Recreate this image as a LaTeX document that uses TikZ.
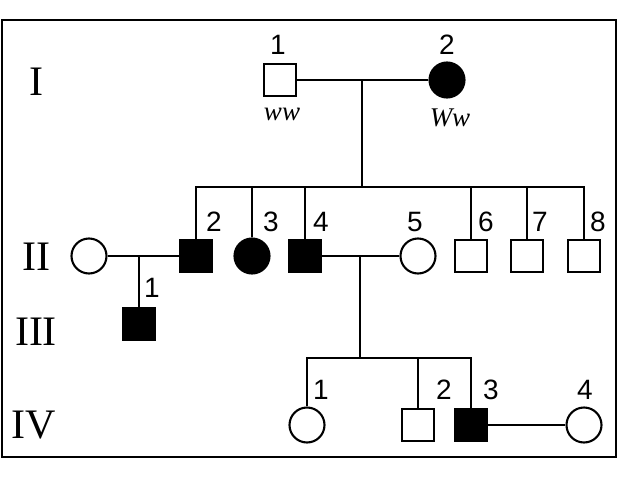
\documentclass[tikz,border=0pt]{standalone}
\usepackage{fontspec}
\setmainfont{Liberation Serif}
\newfontfamily\numfont{Liberation Sans}

\begin{document}
\begin{tikzpicture}[x=1pt, y=-1pt, line width=2.1pt,
    male/.style={draw, rectangle, minimum size=32pt, inner sep=0pt, fill=white},
    female/.style={draw, circle, minimum size=35pt, inner sep=0pt, fill=white},
    aff/.style={fill=black},
    num/.style={font=\numfont\fontsize{28}{28}\selectfont, inner sep=0pt},
    gen/.style={font=\fontsize{42}{42}\selectfont, inner sep=0pt},
    geno/.style={font=\itshape\fontsize{27}{27}\selectfont, inner sep=0pt}]
      \useasboundingbox (0,0) rectangle (632,490);
      \draw[line width=2.6pt] (2,20) rectangle (616,457);

      \node[gen] (gI) at (36,82) {I};
      \node[gen] (gII) at (36,257) {II};
      \node[gen] (gIII) at (36,332) {III};
      \node[gen] (gIV) at (34,425) {IV};

      \node[male] (I1) at (280,80) {};
      \node[female,aff] (I2) at (447,80) {};

      \node[female] (IIs) at (89,256) {};
      \node[male,aff] (II2) at (196,256) {};
      \node[female,aff] (II3) at (252,256) {};
      \node[male,aff] (II4) at (305,256) {};
      \node[female] (II5) at (418,256) {};
      \node[male] (II6) at (471,256) {};
      \node[male] (II7) at (527,256) {};
      \node[male] (II8) at (584,256) {};

      \node[male,aff] (III1) at (139,324) {};

      \node[female] (IV1) at (307,425) {};
      \node[male] (IV2) at (418,425) {};
      \node[male,aff] (IV3) at (471,425) {};
      \node[female] (IV4) at (584,425) {};

      \coordinate (m1) at (362,80);
      \coordinate (s1) at (362,187);
      \coordinate (m2) at (139,256);
      \coordinate (m3) at (360,256);
      \coordinate (s3) at (360,358);

      \draw (I1) -- (I2);
      \draw (m1) -- (s1);
      \draw (II2.north) -- (II2.north |- s1) -- (II8.north |- s1) -- (II8.north);
      \foreach \k in {II3,II4,II6,II7}
        \draw (\k.north) -- (\k.north |- s1);

      \draw (IIs) -- (II2);
      \draw (m2) -- (III1.north);

      \draw (II4) -- (II5);
      \draw (m3) -- (s3);
      \draw (IV1.north) -- (IV1.north |- s3) -- (IV3.north |- s3) -- (IV3.north);
      \draw (IV2.north) -- (IV2.north |- s3);

      \draw (IV3) -- (IV4);

      \node[num] at (278,45) {1};
      \node[num] at (447,45) {2};
      \node[geno] at (282,114) {ww};
      \node[geno] at (450,118) {Ww};

      \node[num] at (214,222) {2};
      \node[num] at (271,222) {3};
      \node[num] at (321,222) {4};
      \node[num] at (415,222) {5};
      \node[num] at (486,222) {6};
      \node[num] at (540,222) {7};
      \node[num] at (598,222) {8};
      \node[num] at (152,288) {1};

      \node[num] at (321,390) {1};
      \node[num] at (444,390) {2};
      \node[num] at (491,390) {3};
      \node[num] at (585,390) {4};
    \end{tikzpicture}
\end{document}
